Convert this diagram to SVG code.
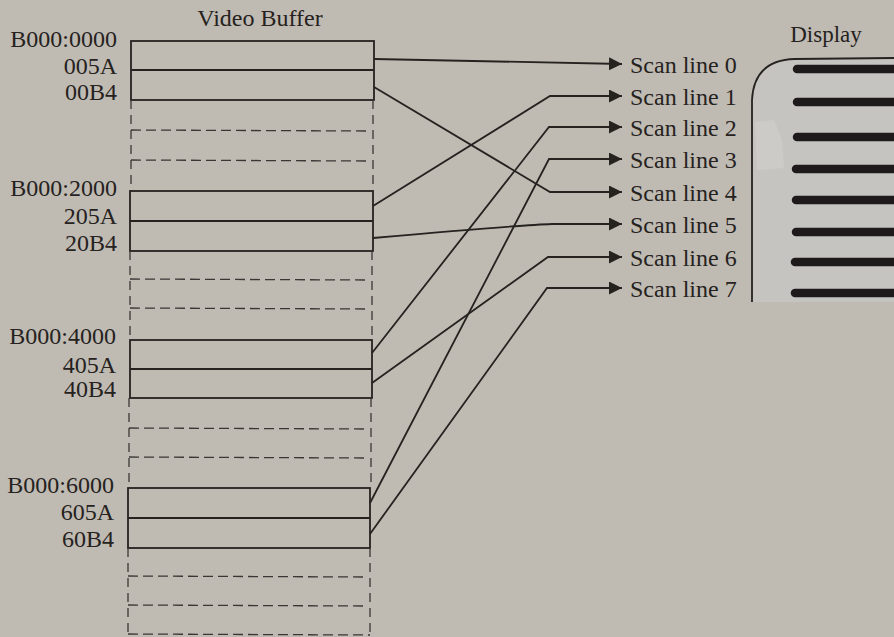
<svg xmlns="http://www.w3.org/2000/svg" width="894" height="637" viewBox="0 0 894 637">
<defs>
<style>
.t{font-family:"Liberation Serif","Times New Roman",serif;font-size:24px;fill:#262220}
.r{text-anchor:end}
.box{fill:none;stroke:#262220;stroke-width:1.8}
.dash{fill:none;stroke:#3a3634;stroke-width:1.3;stroke-dasharray:10 5}
.vd{fill:none;stroke:#3a3634;stroke-width:1.3;stroke-dasharray:9 6}
.c{fill:none;stroke:#262220;stroke-width:1.8}
.bar{stroke:#1e1a1c;stroke-width:8.5;stroke-linecap:round}
</style>
<marker id="ah" markerUnits="userSpaceOnUse" markerWidth="14" markerHeight="13" refX="13" refY="6.5" orient="auto">
<path d="M0,0 L13,6.5 L0,13 z" fill="#262220"/>
</marker>
</defs>
<rect width="894" height="637" fill="#bfbbb3"/>

<text class="t" x="260" y="26" text-anchor="middle">Video Buffer</text>

<g id="block1">
<rect class="box" x="131" y="41" width="243" height="59"/>
<line class="box" x1="131" y1="70" x2="374" y2="70"/>
<text class="t r" x="117" y="47">B000:0000</text>
<text class="t r" x="117" y="74">005A</text>
<text class="t r" x="117" y="100">00B4</text>
</g>
<g id="gap1">
<line class="vd" x1="131" y1="100" x2="131" y2="191"/>
<line class="vd" x1="373" y1="100" x2="373" y2="191"/>
<line class="dash" x1="131" y1="130" x2="369" y2="131"/>
<line class="dash" x1="131" y1="160" x2="369" y2="161"/>
</g>
<g id="block2">
<rect class="box" x="130" y="191" width="243" height="60"/>
<line class="box" x1="130" y1="221" x2="373" y2="221"/>
<text class="t r" x="117" y="196">B000:2000</text>
<text class="t r" x="117" y="224">205A</text>
<text class="t r" x="117" y="251">20B4</text>
</g>
<g id="gap2">
<line class="vd" x1="130" y1="251" x2="130" y2="340"/>
<line class="vd" x1="372" y1="251" x2="372" y2="340"/>
<line class="dash" x1="130" y1="279" x2="368" y2="280"/>
<line class="dash" x1="130" y1="308" x2="368" y2="309"/>
</g>
<g id="block3">
<rect class="box" x="130" y="340" width="242" height="58"/>
<line class="box" x1="130" y1="369" x2="372" y2="369"/>
<text class="t r" x="116" y="344">B000:4000</text>
<text class="t r" x="116" y="373">405A</text>
<text class="t r" x="116" y="397">40B4</text>
</g>
<g id="gap3">
<line class="vd" x1="129" y1="398" x2="129" y2="488"/>
<line class="vd" x1="371" y1="398" x2="371" y2="488"/>
<line class="dash" x1="129" y1="428" x2="367" y2="429"/>
<line class="dash" x1="129" y1="457" x2="367" y2="458"/>
</g>
<g id="block4">
<rect class="box" x="128" y="488" width="242" height="60"/>
<line class="box" x1="128" y1="518" x2="370" y2="518"/>
<text class="t r" x="114" y="493">B000:6000</text>
<text class="t r" x="114" y="520">605A</text>
<text class="t r" x="114" y="547">60B4</text>
</g>
<g id="gap4">
<line class="vd" x1="128" y1="548" x2="128" y2="634"/>
<line class="vd" x1="370" y1="548" x2="370" y2="634"/>
<line class="dash" x1="128" y1="576" x2="366" y2="577"/>
<line class="dash" x1="128" y1="605" x2="366" y2="606"/>
<line class="dash" x1="128" y1="634" x2="370" y2="635"/>
</g>

<g id="scanlines">
<text class="t" x="630" y="73">Scan line 0</text>
<text class="t" x="630" y="105">Scan line 1</text>
<text class="t" x="630" y="136">Scan line 2</text>
<text class="t" x="630" y="168">Scan line 3</text>
<text class="t" x="630" y="201">Scan line 4</text>
<text class="t" x="630" y="233">Scan line 5</text>
<text class="t" x="630" y="266">Scan line 6</text>
<text class="t" x="630" y="297">Scan line 7</text>
</g>

<g id="connectors">
<path class="c" marker-end="url(#ah)" d="M374 59 L622 64"/>
<path class="c" marker-end="url(#ah)" d="M374 87 L550 192 L622 192"/>
<path class="c" marker-end="url(#ah)" d="M373 206 L550 96 L622 96"/>
<path class="c" marker-end="url(#ah)" d="M373 238 Q520 225 552 224 L622 224"/>
<path class="c" marker-end="url(#ah)" d="M372 353 L549 127 L622 127"/>
<path class="c" marker-end="url(#ah)" d="M372 383 L548 257 L622 257"/>
<path class="c" marker-end="url(#ah)" d="M370 503 L549 159 L622 159"/>
<path class="c" marker-end="url(#ah)" d="M370 534 L547 288 L622 288"/>
</g>

<g id="display">
<text x="826" y="42" text-anchor="middle" style="font-family:'Liberation Serif','Times New Roman',serif;font-size:23px;fill:#262220">Display</text>
<path d="M752 302 L752 100 Q754 60 795 59 L894 58 L894 302 Z" fill="#c6c4c0"/>
<path d="M752 302 L752 100 Q754 60 795 59 L894 58" fill="none" stroke="#262220" stroke-width="1.8"/>
<path d="M755 122 L774 120 L782 140 L784 168 L757 170 Z" fill="#cdcbc7"/>
<line class="bar" x1="797" y1="69" x2="900" y2="69"/>
<line class="bar" x1="797" y1="102" x2="900" y2="102"/>
<line class="bar" x1="797" y1="137" x2="900" y2="137"/>
<line class="bar" x1="796" y1="169" x2="900" y2="169"/>
<line class="bar" x1="796" y1="200" x2="900" y2="200"/>
<line class="bar" x1="796" y1="232" x2="900" y2="232"/>
<line class="bar" x1="795" y1="262" x2="900" y2="262"/>
<line class="bar" x1="795" y1="293" x2="900" y2="293"/>
</g>
</svg>
